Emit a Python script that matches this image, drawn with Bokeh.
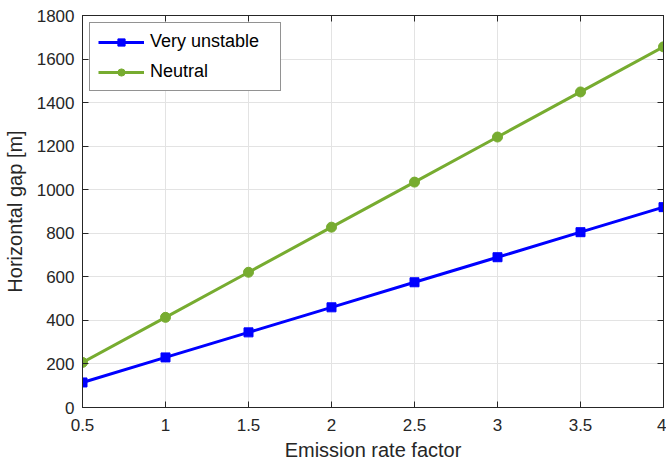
from bokeh.plotting import figure
from bokeh.models import LinearAxis, Legend, LegendItem, Range1d, FixedTicker, CustomJSTickFormatter
from bokeh.embed import file_html
from bokeh.resources import INLINE

x_vals = [0.5, 1, 1.5, 2, 2.5, 3, 3.5, 4]
very_unstable = [115, 230, 345, 460, 575, 690, 805, 920]
neutral = [207, 414, 621, 828, 1035, 1242, 1449, 1656]
x_ticks = [0.5, 1, 1.5, 2, 2.5, 3, 3.5, 4]
y_ticks = [0, 200, 400, 600, 800, 1000, 1200, 1400, 1600, 1800]

FONT = "Liberation Sans"
DARK = "#262626"

p = figure(width=666, height=463, output_backend="svg", toolbar_location=None,
           x_range=Range1d(0.5, 4), y_range=Range1d(0, 1800),
           min_border_left=82, min_border_right=3, min_border_top=15, min_border_bottom=55)
p.outline_line_color = DARK
p.outline_line_width = 1

for ax in (p.xaxis[0], p.yaxis[0]):
    ax.major_tick_in = 6
    ax.major_tick_out = 0
    ax.minor_tick_line_color = None
    ax.axis_line_color = DARK
    ax.major_tick_line_color = DARK
    ax.major_label_text_font = FONT
    ax.major_label_text_font_size = "17px"
    ax.major_label_text_color = DARK
    ax.axis_label_text_font = FONT
    ax.axis_label_text_font_size = "20px"
    ax.axis_label_text_font_style = "normal"
    ax.axis_label_text_color = DARK

p.xaxis.ticker = FixedTicker(ticks=x_ticks)
p.yaxis.ticker = FixedTicker(ticks=y_ticks)
p.xaxis.axis_label = "Emission rate factor"
p.yaxis.axis_label = "Horizontal gap [m]"
p.xaxis.axis_label_standoff = 5
p.yaxis.axis_label_standoff = 8
p.xaxis.major_label_standoff = 11
p.yaxis.major_label_standoff = 8

blank = CustomJSTickFormatter(code="return ''")
top = LinearAxis(ticker=FixedTicker(ticks=x_ticks), formatter=blank,
                 major_tick_in=6, major_tick_out=0, minor_tick_line_color=None,
                 axis_line_color=DARK, major_tick_line_color=DARK, major_label_standoff=0)
right = LinearAxis(ticker=FixedTicker(ticks=y_ticks), formatter=blank,
                   major_tick_in=6, major_tick_out=0, minor_tick_line_color=None,
                   axis_line_color=DARK, major_tick_line_color=DARK, major_label_standoff=0)
p.add_layout(top, "above")
p.add_layout(right, "right")

p.xgrid.ticker = FixedTicker(ticks=x_ticks)
p.ygrid.ticker = FixedTicker(ticks=y_ticks)
p.grid.grid_line_color = "#e3e3e3"
p.grid.grid_line_width = 1

blue = "#0000ff"
green = "#77ac30"
l1 = p.line(x_vals, very_unstable, line_color=blue, line_width=3)
m1 = p.scatter(x_vals, very_unstable, marker="square", size=9, fill_color=blue, line_color=blue)
l2 = p.line(x_vals, neutral, line_color=green, line_width=3)
m2 = p.scatter(x_vals, neutral, marker="circle", size=10, fill_color=green, line_color=green)

legend = Legend(items=[LegendItem(label="Very unstable", renderers=[l1, m1]),
                       LegendItem(label="Neutral", renderers=[l2, m2])],
                location="top_left", label_text_font=FONT, label_text_font_size="18px",
                label_text_color="#000000", border_line_color=DARK, border_line_width=1,
                background_fill_alpha=1, glyph_width=46, glyph_height=18, label_height=18,
                label_width=122, spacing=9, padding=8, margin=7, label_standoff=6)
p.add_layout(legend)

open("out.html", "w").write(file_html(p, INLINE))
